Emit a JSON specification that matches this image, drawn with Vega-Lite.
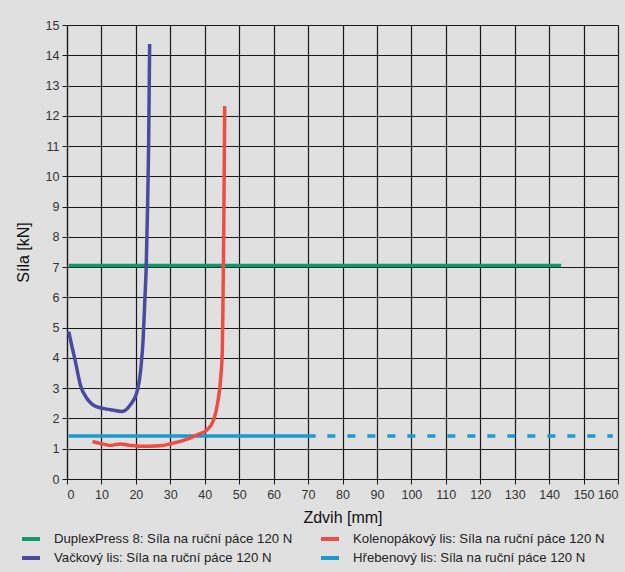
{
  "$schema": "https://vega.github.io/schema/vega-lite/v6.json",
  "autosize": "none",
  "width": 551,
  "height": 454,
  "padding": {"left": 67, "top": 25, "right": 7, "bottom": 93},
  "background": "#e0e0e0",
  "config": {
    "font": "Liberation Sans",
    "view": {"stroke": null}
  },
  "datasets": {
    "lines": [
      {"series": "DuplexPress 8: Síla na ruční páce 120 N", "x": 0.5, "y": 7.05},
      {"series": "DuplexPress 8: Síla na ruční páce 120 N", "x": 143.5, "y": 7.05},
      {"series": "Hřebenový lis: Síla na ruční páce 120 N", "x": 0.5, "y": 1.42},
      {"series": "Hřebenový lis: Síla na ruční páce 120 N", "x": 72.2, "y": 1.42},
      {"series": "Vačkový lis: Síla na ruční páce 120 N", "x": 0.5, "y": 4.87},
      {"series": "Vačkový lis: Síla na ruční páce 120 N", "x": 1.5, "y": 4.35},
      {"series": "Vačkový lis: Síla na ruční páce 120 N", "x": 2.4, "y": 3.9},
      {"series": "Vačkový lis: Síla na ruční páce 120 N", "x": 3.9, "y": 3.1},
      {"series": "Vačkový lis: Síla na ruční páce 120 N", "x": 5.8, "y": 2.66},
      {"series": "Vačkový lis: Síla na ruční páce 120 N", "x": 8.7, "y": 2.38},
      {"series": "Vačkový lis: Síla na ruční páce 120 N", "x": 12.6, "y": 2.29},
      {"series": "Vačkový lis: Síla na ruční páce 120 N", "x": 16.0, "y": 2.23},
      {"series": "Vačkový lis: Síla na ruční páce 120 N", "x": 18.4, "y": 2.45},
      {"series": "Vačkový lis: Síla na ruční páce 120 N", "x": 20.5, "y": 2.95},
      {"series": "Vačkový lis: Síla na ruční páce 120 N", "x": 21.5, "y": 3.72},
      {"series": "Vačkový lis: Síla na ruční páce 120 N", "x": 22.1, "y": 4.6},
      {"series": "Vačkový lis: Síla na ruční páce 120 N", "x": 22.6, "y": 5.9},
      {"series": "Vačkový lis: Síla na ruční páce 120 N", "x": 23.0, "y": 7.0},
      {"series": "Vačkový lis: Síla na ruční páce 120 N", "x": 23.4, "y": 9.0},
      {"series": "Vačkový lis: Síla na ruční páce 120 N", "x": 23.7, "y": 11.0},
      {"series": "Vačkový lis: Síla na ruční páce 120 N", "x": 24.0, "y": 14.37},
      {"series": "Kolenopákový lis: Síla na ruční páce 120 N", "x": 7.4, "y": 1.24},
      {"series": "Kolenopákový lis: Síla na ruční páce 120 N", "x": 10.2, "y": 1.16},
      {"series": "Kolenopákový lis: Síla na ruční páce 120 N", "x": 12.6, "y": 1.11},
      {"series": "Kolenopákový lis: Síla na ruční páce 120 N", "x": 15.5, "y": 1.16},
      {"series": "Kolenopákový lis: Síla na ruční páce 120 N", "x": 18.4, "y": 1.11},
      {"series": "Kolenopákový lis: Síla na ruční páce 120 N", "x": 21.3, "y": 1.08},
      {"series": "Kolenopákový lis: Síla na ruční páce 120 N", "x": 27.1, "y": 1.1},
      {"series": "Kolenopákový lis: Síla na ruční páce 120 N", "x": 31.0, "y": 1.19},
      {"series": "Kolenopákový lis: Síla na ruční páce 120 N", "x": 34.9, "y": 1.32},
      {"series": "Kolenopákový lis: Síla na ruční páce 120 N", "x": 37.8, "y": 1.46},
      {"series": "Kolenopákový lis: Síla na ruční páce 120 N", "x": 40.7, "y": 1.63},
      {"series": "Kolenopákový lis: Síla na ruční páce 120 N", "x": 42.6, "y": 1.96},
      {"series": "Kolenopákový lis: Síla na ruční páce 120 N", "x": 43.9, "y": 2.62},
      {"series": "Kolenopákový lis: Síla na ruční páce 120 N", "x": 44.6, "y": 3.28},
      {"series": "Kolenopákový lis: Síla na ruční páce 120 N", "x": 45.1, "y": 4.27},
      {"series": "Kolenopákový lis: Síla na ruční páce 120 N", "x": 45.3, "y": 5.9},
      {"series": "Kolenopákový lis: Síla na ruční páce 120 N", "x": 45.5, "y": 8.0},
      {"series": "Kolenopákový lis: Síla na ruční páce 120 N", "x": 45.8, "y": 12.32}
    ],
    "dashed": [
      {"series": "Hřebenový lis: Síla na ruční páce 120 N", "x": 75.6, "y": 1.42},
      {"series": "Hřebenový lis: Síla na ruční páce 120 N", "x": 158.5, "y": 1.42}
    ]
  },
  "encoding": {
    "x": {
      "field": "x", "type": "quantitative",
      "scale": {"domain": [0, 160], "nice": false, "zero": false},
      "axis": {
        "title": "Zdvih [mm]", "values": [0,10,20,30,40,50,60,70,80,90,100,110,120,130,140,150,160],
        "grid": true, "gridColor": "#1a1a1a", "gridWidth": 1.2,
        "domainColor": "#1a1a1a", "domainWidth": 1.2,
        "tickColor": "#1a1a1a", "tickSize": 5,
        "labelFontSize": 12.5, "labelColor": "#333333", "labelPadding": 4,
        "titleFontSize": 16, "titleFontWeight": "normal", "titleColor": "#111111", "titlePadding": 9
      }
    },
    "y": {
      "field": "y", "type": "quantitative",
      "scale": {"domain": [0, 15], "nice": false},
      "axis": {
        "title": "Síla [kN]", "values": [0,1,2,3,4,5,6,7,8,9,10,11,12,13,14,15],
        "grid": true, "gridColor": "#1a1a1a", "gridWidth": 1.2,
        "domainColor": "#1a1a1a", "domainWidth": 1.2,
        "tickColor": "#1a1a1a", "tickSize": 5,
        "labelFontSize": 12.5, "labelColor": "#333333", "labelPadding": 3,
        "titleFontSize": 16, "titleFontWeight": "normal", "titleColor": "#111111", "titlePadding": 14
      }
    }
  },
  "layer": [
    {
      "data": {"name": "lines"},
      "mark": {"type": "line", "strokeWidth": 3.5, "strokeCap": "butt", "interpolate": "monotone"},
      "encoding": {
        "color": {
          "field": "series", "type": "nominal",
          "scale": {
            "domain": ["DuplexPress 8: Síla na ruční páce 120 N", "Vačkový lis: Síla na ruční páce 120 N", "Kolenopákový lis: Síla na ruční páce 120 N", "Hřebenový lis: Síla na ruční páce 120 N"],
            "range": ["#10996a", "#4a4a9f", "#ee4d46", "#1a9bd0"]
          },
          "legend": {
            "title": null, "orient": "none", "legendX": -47, "legendY": 503,
            "columns": 2, "columnPadding": 20, "rowPadding": 0,
            "symbolType": "stroke", "symbolSize": 324, "symbolStrokeWidth": 4,
            "labelFontSize": 13.2, "labelColor": "#222222", "labelOffset": 12,
            "labelLimit": 400
          }
        }
      }
    },
    {
      "data": {"name": "dashed"},
      "mark": {"type": "line", "strokeWidth": 3.5, "strokeDash": [8, 12], "color": "#1a9bd0"},
      "encoding": {}
    }
  ]
}
